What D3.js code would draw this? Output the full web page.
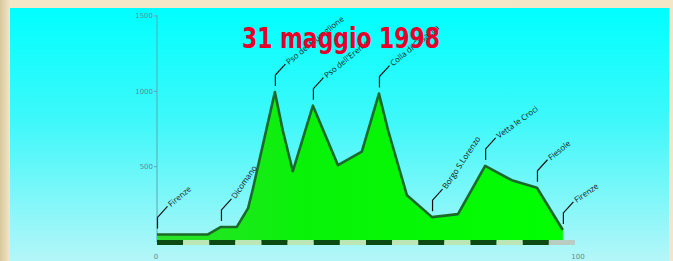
<!DOCTYPE html>
<html>
<head>
<meta charset="utf-8">
<script src="https://cdn.jsdelivr.net/npm/d3@7"></script>
<style>
  html, body { margin: 0; padding: 0; background: #f2e6c6; }
  svg { display: block; }
</style>
</head>
<body>
<div id="chart"></div>
<script>
// Profile of the route: km from start and elevation (m)
const km = [0, 12.2, 15.3, 19.1, 21.8, 23.0, 28.2, 30.1, 32.5, 37.3, 43.3, 49.0, 53.1, 55.3, 59.8, 65.8, 72.0, 78.5, 84.9, 90.9, 97.1];
const elevation = [50, 50, 100, 100, 225, 360, 995, 740, 470, 905, 510, 600, 985, 740, 310, 165, 185, 505, 410, 360, 80];

// Places along the route
const places = ['Firenze', 'Dicomano', 'Pso del Muraglione', "Pso dell'Eremo", 'Colla di Casaglia', 'Borgo S.Lorenzo', 'Vetta le Croci', 'Fiesole', 'Firenze'];
const placeKm = [0, 15.3, 28.2, 37.3, 53.1, 65.8, 78.5, 90.9, 97.1];

const yTicks = [500, 1000, 1500];
const xTickLabels = [0, 100];
const title = '31 maggio 1998';

const width = 673;
const height = 261;

const svg = d3.select('#chart')
  .append('svg')
  .attr('width', width)
  .attr('height', height);

const defs = svg.append('defs');

// parchment frame
const frame = defs.append('linearGradient').attr('id', 'frame');
frame.append('stop').attr('offset', '0').attr('stop-color', '#d9c79c');
frame.append('stop').attr('offset', '0.015').attr('stop-color', '#f3e7c8');
frame.append('stop').attr('offset', '1').attr('stop-color', '#f2e6c6');

const sky = defs.append('linearGradient').attr('id', 'sky')
  .attr('x1', 0).attr('y1', 0).attr('x2', 0).attr('y2', 1);
sky.append('stop').attr('offset', '0').attr('stop-color', '#00ffff');
sky.append('stop').attr('offset', '0.45').attr('stop-color', '#3ff8fa');
sky.append('stop').attr('offset', '1').attr('stop-color', '#b4f6f8');

const grass = defs.append('linearGradient').attr('id', 'grass')
  .attr('gradientUnits', 'userSpaceOnUse')
  .attr('x1', 157).attr('x2', 575).attr('y1', 0).attr('y2', 0);
grass.append('stop').attr('offset', '0').attr('stop-color', '#2ee02e');
grass.append('stop').attr('offset', '0.35').attr('stop-color', '#08f208');
grass.append('stop').attr('offset', '1').attr('stop-color', '#00ff00');

svg.append('rect').attr('width', width).attr('height', height).attr('fill', 'url(#frame)');
svg.append('rect')
  .attr('x', 10).attr('y', 8)
  .attr('width', 659).attr('height', height - 8)
  .attr('fill', 'url(#sky)');

const xScale = d3.scaleLinear().domain([0, 100]).range([157, 575]);
const yScale = d3.scaleLinear().domain([0, 1500]).range([242, 16]);

// elevation at any km (piecewise linear along the profile)
const elevAt = d3.scaleLinear().domain(km).range(elevation);

const g = svg.append('g');

// y axis
g.append('line')
  .attr('x1', xScale(0)).attr('x2', xScale(0))
  .attr('y1', yScale(1500) - 1).attr('y2', yScale(0))
  .attr('stroke', '#58a8b4')
  .attr('stroke-width', 1);

g.selectAll('.ytick')
  .data(yTicks)
  .join('line')
  .attr('class', 'ytick')
  .attr('x1', xScale(0) - 3).attr('x2', xScale(0))
  .attr('y1', d => yScale(d)).attr('y2', d => yScale(d))
  .attr('stroke', '#58a8b4');

g.selectAll('.ylabel')
  .data(yTicks)
  .join('text')
  .attr('class', 'ylabel')
  .attr('x', xScale(0) - 4)
  .attr('y', d => yScale(d))
  .attr('dy', '0.35em')
  .attr('text-anchor', 'end')
  .attr('font-family', 'DejaVu Sans, sans-serif')
  .attr('font-size', 7)
  .attr('fill', '#5f8c9a')
  .text(d => d);

g.selectAll('.xlabel')
  .data(xTickLabels)
  .join('text')
  .attr('class', 'xlabel')
  .attr('x', (d, i) => xScale(d) + (i ? 3 : -1))
  .attr('y', 257)
  .attr('dy', '0.35em')
  .attr('text-anchor', 'middle')
  .attr('font-family', 'DejaVu Sans, sans-serif')
  .attr('font-size', 7)
  .attr('fill', '#5f8c9a')
  .text(d => d);

// profile
const profile = km.map((k, i) => ({ km: k, elev: elevation[i] }));

const area = d3.area()
  .x(d => xScale(d.km))
  .y0(yScale(0))
  .y1(d => yScale(d.elev));

const line = d3.line()
  .x(d => xScale(d.km))
  .y(d => yScale(d.elev));

g.append('path')
  .datum(profile)
  .attr('d', area)
  .attr('fill', 'url(#grass)');

g.append('path')
  .datum(profile)
  .attr('d', line)
  .attr('fill', 'none')
  .attr('stroke', '#1c6a2a')
  .attr('stroke-width', 2.6)
  .attr('stroke-linejoin', 'round');

// km bar under the profile
const segments = d3.range(0, 100, 6.25);
g.selectAll('.seg')
  .data(segments)
  .join('rect')
  .attr('class', 'seg')
  .attr('x', d => xScale(d))
  .attr('y', 240)
  .attr('width', xScale(6.25) - xScale(0))
  .attr('height', 5)
  .attr('fill', (d, i) => i % 2 === 0 ? '#0c4a14' : (i === segments.length - 1 ? '#b9ccc4' : '#bde6b6'));

// place labels with leader lines
const labelAngles = [-40, -55, -39, -39, -39, -56, -36, -39, -35];

const labels = g.selectAll('.place')
  .data(places.map((p, i) => ({ name: p, km: placeKm[i], angle: labelAngles[i] })))
  .join('g')
  .attr('class', 'place')
  .attr('transform', d => `translate(${xScale(d.km) + 0.5}, ${yScale(elevAt(d.km)) - 6})`);

labels.append('path')
  .attr('d', 'M0,0 V-11 L10,-22')
  .attr('fill', 'none')
  .attr('stroke', '#111')
  .attr('stroke-width', 1.2);

labels.append('text')
  .attr('transform', d => `translate(12, -23) rotate(${d.angle})`)
  .attr('font-family', 'Open Sans, sans-serif')
  .attr('font-size', 8)
  .attr('fill', '#111')
  .attr('dy', '0.3em')
  .text(d => d.name);

// title
svg.append('text')
  .attr('x', 341)
  .attr('y', 48)
  .attr('text-anchor', 'middle')
  .attr('font-family', 'DejaVu Sans Condensed, DejaVu Sans, sans-serif')
  .attr('font-weight', 'bold')
  .attr('font-stretch', 'condensed')
  .attr('font-size', 28)
  .attr('textLength', 198)
  .attr('lengthAdjust', 'spacingAndGlyphs')
  .attr('fill', '#e4002b')
  .text(title);
</script>
</body>
</html>
